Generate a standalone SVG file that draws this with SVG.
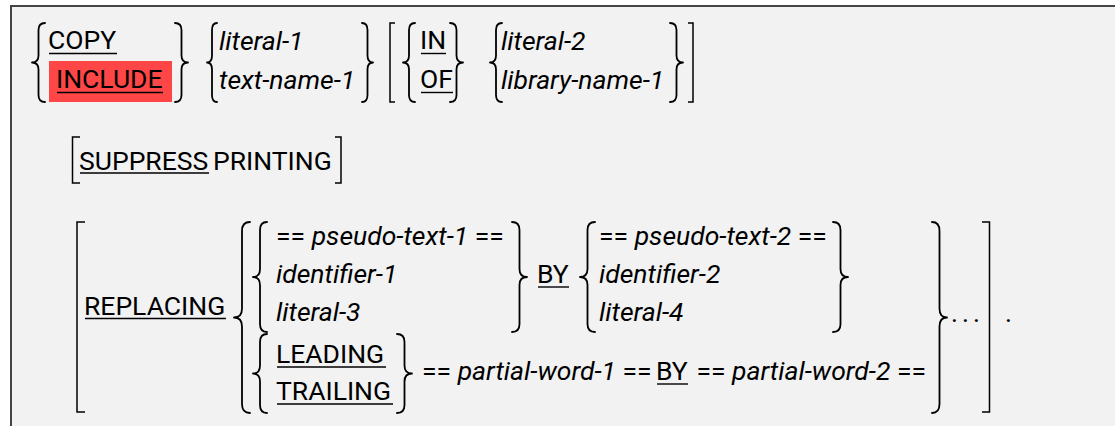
<svg xmlns="http://www.w3.org/2000/svg" width="1115" height="426" viewBox="0 0 1115 426">
<style>
text{font-family:Roboto,"Liberation Sans",sans-serif;font-size:26.5px;fill:#000}
.i{font-style:italic}
.br{fill:none;stroke:#000;stroke-width:1.8;stroke-linecap:round;stroke-linejoin:round}
.bk{fill:none;stroke:#000;stroke-width:1.5}
.u{stroke:#000;stroke-width:1.4}
</style>
<rect width="1115" height="426" fill="#fff"/>
<rect x="11" y="6" width="1110" height="430" fill="#f2f2f2" stroke="#444" stroke-width="2"/>
<g id="row1">
<rect x="49" y="61" width="123" height="41" fill="#ff4646"/>
<text x="48" y="49">COPY</text><line class="u" x1="49" y1="53.5" x2="117" y2="53.5"/>
<text x="56" y="88">INCLUDE</text><line class="u" x1="57" y1="92.5" x2="163" y2="92.5"/>
<text class="i" x="219" y="50">literal-1</text>
<text class="i" x="219" y="89">text-name-1</text>
<text x="420" y="49">IN</text><line class="u" x1="421" y1="53.5" x2="446" y2="53.5"/>
<text x="420" y="88">OF</text><line class="u" x1="421" y1="92.5" x2="453" y2="92.5"/>
<text class="i" x="501" y="50">literal-2</text>
<text class="i" x="501" y="89">library-name-1</text>
<path class="br" d="M45,23 Q38.5,23 38.5,30 V55.5 Q38.5,62.5 32,62.5 Q38.5,62.5 38.5,69.5 V95 Q38.5,102 45,102"/>
<path class="br" d="M175,23 Q181.5,23 181.5,30 V55.5 Q181.5,62.5 188,62.5 Q181.5,62.5 181.5,69.5 V95 Q181.5,102 175,102"/>
<path class="br" d="M217,23 Q212,23 212,30 V55.5 Q212,62.5 207,62.5 Q212,62.5 212,69.5 V95 Q212,102 217,102"/>
<path class="br" d="M362,23 Q367.5,23 367.5,30 V55.5 Q367.5,62.5 373,62.5 Q367.5,62.5 367.5,69.5 V95 Q367.5,102 362,102"/>
<path class="br" d="M415,23 Q409,23 409,30 V55.5 Q409,62.5 403,62.5 Q409,62.5 409,69.5 V95 Q409,102 415,102"/>
<path class="br" d="M450,23 Q456.5,23 456.5,30 V55.5 Q456.5,62.5 463,62.5 Q456.5,62.5 456.5,69.5 V95 Q456.5,102 450,102"/>
<path class="br" d="M502,23 Q496,23 496,30 V55.5 Q496,62.5 490,62.5 Q496,62.5 496,69.5 V95 Q496,102 502,102"/>
<path class="br" d="M670,23 Q676.5,23 676.5,30 V55.5 Q676.5,62.5 683,62.5 Q676.5,62.5 676.5,69.5 V95 Q676.5,102 670,102"/>
<path class="bk" d="M395,23 H390 V102 H395 M688,23 H693 V102 H688"/>
</g>
<g id="row2">
<text x="79" y="170">SUPPRESS</text><line class="u" x1="80" y1="173" x2="209" y2="173"/>
<text x="213" y="170">PRINTING</text>
<path class="bk" d="M80,137 H72.5 V183 H80 M335,137 H341 V183 H335"/>
</g>
<g id="row3">
<text x="84" y="315">REPLACING</text><line class="u" x1="85" y1="318.5" x2="226" y2="318.5"/>
<text x="276" y="245">== <tspan class="i">pseudo-text-1</tspan> ==</text>
<text class="i" x="276" y="283">identifier-1</text>
<text class="i" x="276" y="321">literal-3</text>
<text x="537" y="283">BY</text><line class="u" x1="538" y1="287" x2="569" y2="287"/>
<text x="599" y="245">== <tspan class="i">pseudo-text-2</tspan> ==</text>
<text class="i" x="599" y="283">identifier-2</text>
<text class="i" x="599" y="321">literal-4</text>
<text x="276" y="363">LEADING</text><line class="u" x1="277" y1="367" x2="386" y2="367"/>
<text x="276" y="400">TRAILING</text><line class="u" x1="277" y1="404" x2="393" y2="404"/>
<text x="422" y="380">== <tspan class="i">partial-word-1</tspan> ==</text>
<text x="656" y="380">BY</text><line class="u" x1="657" y1="384" x2="688" y2="384"/>
<text x="926" y="380" text-anchor="end">== <tspan class="i">partial-word-2</tspan> ==</text>
<text x="951" y="322" letter-spacing="4">...</text>
<text x="1005" y="322">.</text>
<path class="br" d="M250,222 Q242,222 242,231 V308.5 Q242,317.5 234,317.5 Q242,317.5 242,326.5 V404 Q242,413 250,413"/>
<path class="br" d="M267,222 Q260,222 260,230 V269 Q260,277 253,277 Q260,277 260,285 V324 Q260,332 267,332"/>
<path class="br" d="M512,222 Q519.5,222 519.5,230 V269 Q519.5,277 527,277 Q519.5,277 519.5,285 V324 Q519.5,332 512,332"/>
<path class="br" d="M595,222 Q587.5,222 587.5,230 V269 Q587.5,277 580,277 Q587.5,277 587.5,285 V324 Q587.5,332 595,332"/>
<path class="br" d="M833,222 Q840.5,222 840.5,230 V269 Q840.5,277 848,277 Q840.5,277 840.5,285 V324 Q840.5,332 833,332"/>
<path class="br" d="M267,334 Q260,334 260,342 V365.5 Q260,373.5 253,373.5 Q260,373.5 260,381.5 V405 Q260,413 267,413"/>
<path class="br" d="M397,334 Q404.5,334 404.5,342 V365.5 Q404.5,373.5 412,373.5 Q404.5,373.5 404.5,381.5 V405 Q404.5,413 397,413"/>
<path class="br" d="M932,222 Q939.5,222 939.5,231 V308.5 Q939.5,317.5 947,317.5 Q939.5,317.5 939.5,326.5 V404 Q939.5,413 932,413"/>
<path class="bk" d="M85,222 H77 V412 H85 M982,222 H989.5 V412 H982"/>
</g>
</svg>
